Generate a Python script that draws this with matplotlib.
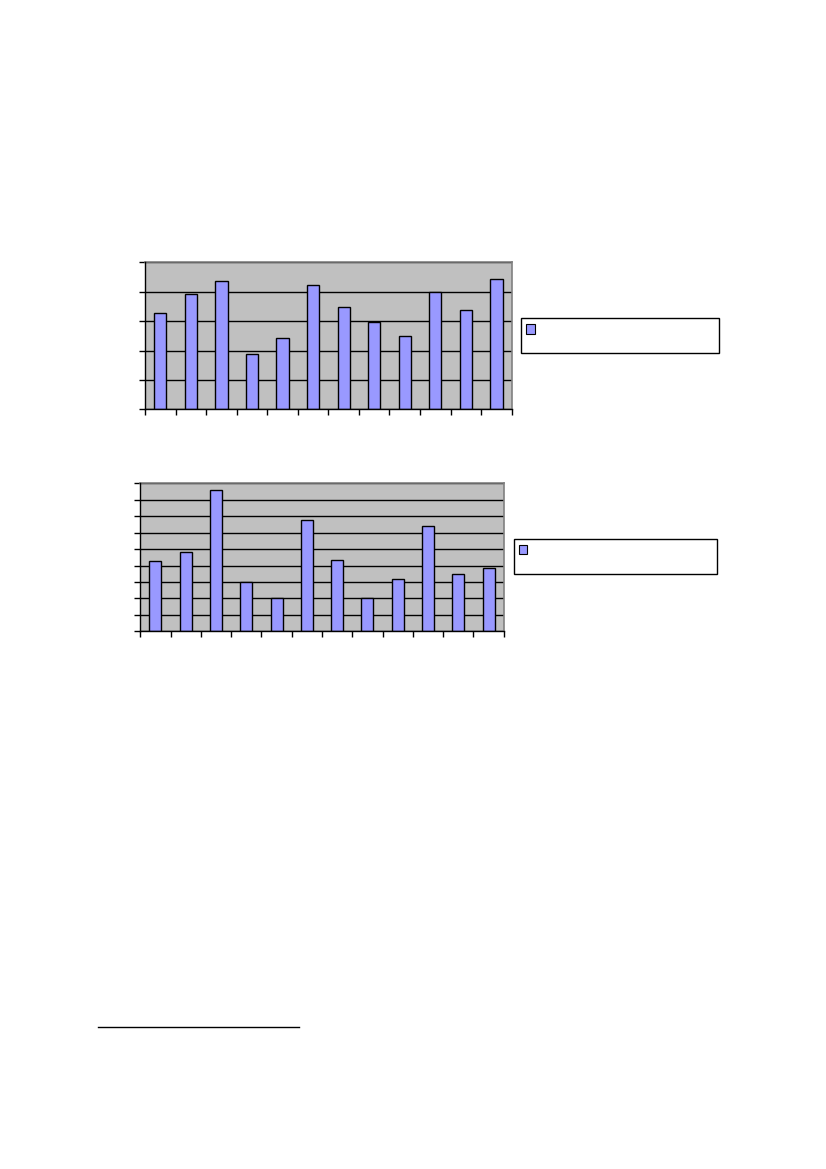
import matplotlib.pyplot as plt
from matplotlib.patches import Rectangle
from matplotlib.lines import Line2D

# Bar values (no labels are printed on the page)
categories = list(range(1, 13))
values_top = [3.27, 3.91, 4.35, 1.87, 2.41, 4.22, 3.47, 2.96, 2.48, 3.98, 3.37, 4.42]
values_bottom = [4.26, 4.80, 8.57, 3.0, 2.0, 6.75, 4.32, 2.0, 3.16, 6.39, 3.47, 3.83]
ymax_top = 5
ymax_bottom = 9

W, H = 826, 1169
fig = plt.figure(figsize=(W / 100, H / 100), dpi=100)


def px_axes(x0, y0, x1, y1):
    # pixel box (top-left origin) -> axes
    return fig.add_axes([x0 / W, 1 - y1 / H, (x1 - x0) / W, (y1 - y0) / H])


def draw_chart(ax, values, ymax):
    ax.set_facecolor("#c0c0c0")
    x = range(len(values))
    ax.bar(x, values, width=0.4, color="#9999ff", edgecolor="black",
           linewidth=1.0, zorder=3)
    ax.set_xlim(-0.5, len(values) - 0.5)
    ax.set_ylim(0, ymax)
    ax.set_yticks(range(ymax + 1))
    ax.set_xticks([i - 0.5 for i in range(len(values) + 1)])
    ax.set_xticklabels([])
    ax.set_yticklabels([])
    ax.tick_params(axis="both", direction="out", length=4, width=1, color="black")
    ax.grid(axis="y", color="black", linewidth=1.0, zorder=1)
    for side in ("top", "right"):
        ax.spines[side].set_color("#808080")
        ax.spines[side].set_linewidth(1.2)
    for side in ("left", "bottom"):
        ax.spines[side].set_color("black")
        ax.spines[side].set_linewidth(1.0)
        ax.spines[side].set_zorder(4)


def draw_legend(x0, y0, x1, y1, mx0, my0, mx1, my1):
    fig.patches.append(Rectangle((x0 / W, 1 - y1 / H), (x1 - x0) / W, (y1 - y0) / H,
                                 transform=fig.transFigure, facecolor="white",
                                 edgecolor="black", linewidth=1.0))
    fig.patches.append(Rectangle((mx0 / W, 1 - my1 / H), (mx1 - mx0) / W, (my1 - my0) / H,
                                 transform=fig.transFigure, facecolor="#9999ff",
                                 edgecolor="black", linewidth=0.8))


ax1 = px_axes(145, 262.3, 511.7, 409.3)
draw_chart(ax1, values_top, ymax_top)
draw_legend(521.3, 318.3, 719.3, 353.3, 526.3, 324.3, 534.7, 333.7)

ax2 = px_axes(140.3, 483.3, 503.7, 631.3)
draw_chart(ax2, values_bottom, ymax_bottom)
draw_legend(514.3, 539.3, 716.7, 574.3, 519.3, 545.3, 526.7, 553.7)

# footnote separator line
fig.lines.append(Line2D([98.3 / W, 298.7 / W], [1 - 1027.3 / H, 1 - 1027.3 / H],
                        transform=fig.transFigure, color="black", linewidth=1.0))

fig.savefig("out.png", dpi=100)
